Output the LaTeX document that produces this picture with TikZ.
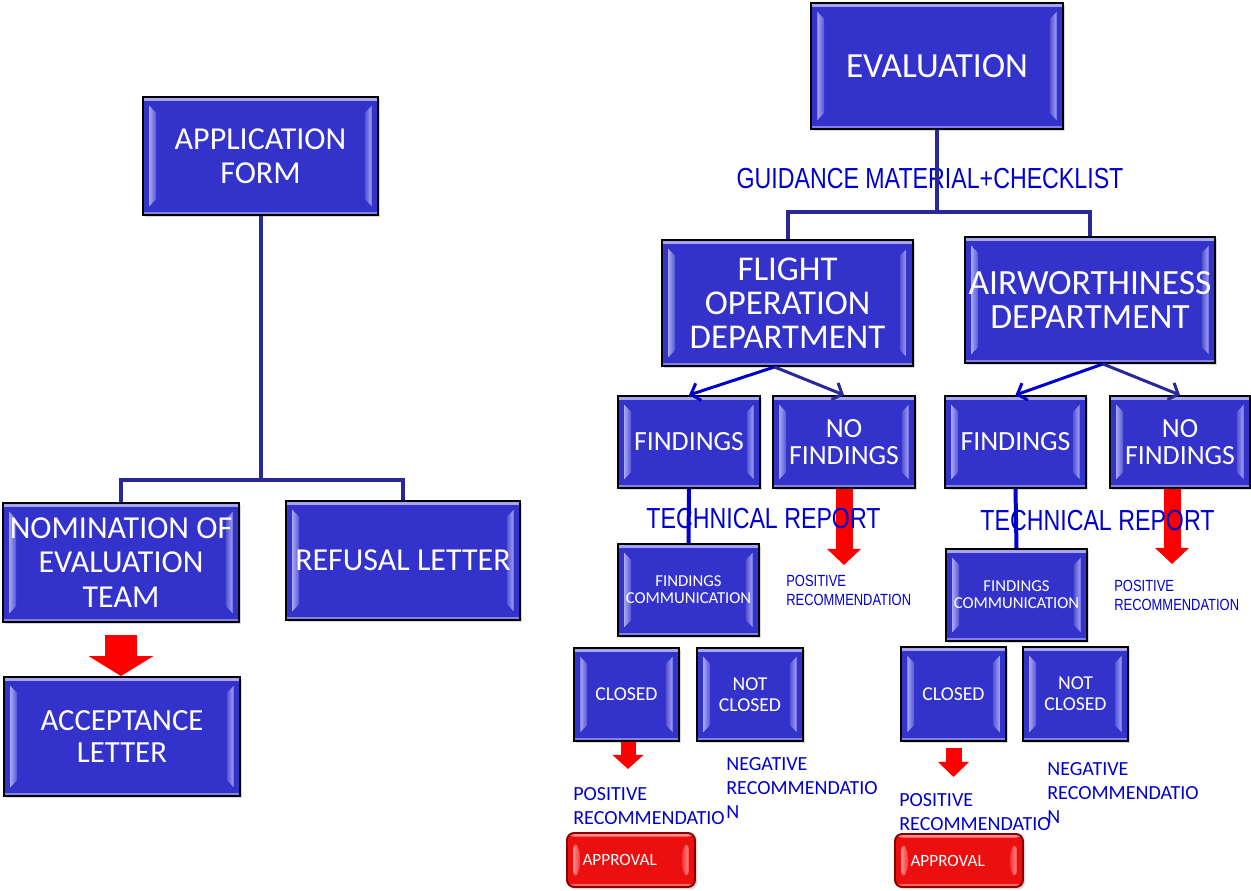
\documentclass[tikz,border=0pt]{standalone}
\usepackage{fontspec}
\setmainfont{Carlito}
\newfontfamily\narrowfont[FakeStretch=0.8]{Liberation Sans}
\usetikzlibrary{calc,arrows.meta,shadows}

\definecolor{boxblue}{RGB}{51,51,204}
\definecolor{bevelblue}{RGB}{165,165,242}
\definecolor{treeblue}{RGB}{40,40,155}
\definecolor{textblue}{RGB}{0,0,204}
\definecolor{okred}{RGB}{235,15,15}
\definecolor{bevelred}{RGB}{255,140,140}

% light rim and side bevels, painted inside a node's path picture
\newcommand\bevelrim[2]{%
  \path (path picture bounding box.north west) coordinate (nw)
        (path picture bounding box.south east) coordinate (se);
  \fill[#1] ($(nw)+(0pt,-0.6pt)$) rectangle ($(nw-|se)+(0pt,-2pt)$);
  \fill[#1, opacity=0.7] ($(nw|-se)+(0pt,0.6pt)$) rectangle ($(se)+(0pt,1.8pt)$);
  \shade[left color=#1, right color=#2] ($(nw)+(3.6pt,-5pt)$) -- ($(nw)+(7.4pt,-9pt)$)
            -- ($(nw|-se)+(7.4pt,9pt)$) -- ($(nw|-se)+(3.6pt,5pt)$) -- cycle;
  \shade[left color=#2, right color=#1] ($(nw-|se)+(-3.6pt,-5pt)$) -- ($(nw-|se)+(-7.4pt,-9pt)$)
            -- ($(se)+(-7.4pt,9pt)$) -- ($(se)+(-3.6pt,5pt)$) -- cycle;
}

\begin{document}
\begin{tikzpicture}[x=0.02cm, y=-0.02cm,
    box/.style={draw=black, line width=1.1pt, fill=boxblue, text=white,
                align=center, inner sep=0pt,
                drop shadow={shadow xshift=1.3pt, shadow yshift=-1.3pt, opacity=0.3},
                path picture={\bevelrim{bevelblue}{boxblue!70!bevelblue}}},
    okbox/.style={box, fill=okred, draw=red!55!black, rounded corners=4pt,
                path picture={\bevelrim{bevelred}{okred!70!bevelred}}},
    wh/.style 2 args={minimum width=#1cm, minimum height=#2cm},
    note/.style={inner sep=0pt, text=textblue, align=left, anchor=north west},
    tree/.style={draw=treeblue, line width=0.08cm},
    fork/.style={line width=0.06cm, -{Straight Barb[length=0.16cm, width=0.36cm]}},
    redarrow/.style n args={3}{draw=red, line width=#1cm,
                -{Triangle[width=#2cm, length=#3cm, line width=0pt]}}]

  \useasboundingbox (0,0) rectangle (1251,891);

  % application side
  \node[box, wh={4.70}{2.36}, font=\fontsize{18.2}{19.5}\selectfont] (appform) at (260.5,156) {APPLICATION\\FORM};
  \node[box, wh={4.72}{2.38}, font=\fontsize{18.2}{19.8}\selectfont] (nomination) at (121,562.5) {NOMINATION OF\\EVALUATION\\TEAM};
  \node[box, wh={4.68}{2.38}, font=\fontsize{18.2}{19.8}\selectfont] (refusal) at (403,560.5) {REFUSAL LETTER};
  \node[box, wh={4.72}{2.38}, font=\fontsize{17.5}{18.2}\selectfont] (acceptance) at (122,736.5) {ACCEPTANCE\\LETTER};

  % evaluation side
  \node[box, wh={5.04}{2.52}, font=\fontsize{20.1}{20}\selectfont] (evaluation) at (937,66) {EVALUATION};
  \node[box, wh={5.02}{2.52}, font=\fontsize{19.8}{19.3}\selectfont] (flightops) at (787.5,303) {FLIGHT\\OPERATION\\DEPARTMENT};
  \node[box, wh={5.00}{2.52}, font=\fontsize{20.2}{19.3}\selectfont] (airworth) at (1090,300) {AIRWORTHINESS\\DEPARTMENT};

  \node[box, wh={2.84}{1.84}, font=\fontsize{15.8}{15.3}\selectfont] (findA) at (689,442) {FINDINGS};
  \node[box, wh={2.84}{1.84}, font=\fontsize{15.8}{15.3}\selectfont] (nofindA) at (844,442) {NO\\FINDINGS};
  \node[box, wh={2.82}{1.84}, font=\fontsize{15.8}{15.3}\selectfont] (findB) at (1015.5,442) {FINDINGS};
  \node[box, wh={2.80}{1.84}, font=\fontsize{15.8}{15.3}\selectfont] (nofindB) at (1180,442) {NO\\FINDINGS};

  \node[box, wh={2.82}{1.84}, font=\fontsize{9.5}{9.6}\selectfont] (commA) at (688.5,590) {FINDINGS\\COMMUNICATION};
  \node[box, wh={2.82}{1.84}, font=\fontsize{9.5}{9.6}\selectfont] (commB) at (1016.5,595) {FINDINGS\\COMMUNICATION};

  \node[box, wh={2.10}{1.86}, font=\fontsize{11.2}{12}\selectfont] (closedA) at (626.5,694.5) {CLOSED};
  \node[box, wh={2.12}{1.86}, font=\fontsize{11.2}{12}\selectfont] (notclosedA) at (750,694.5) {NOT\\CLOSED};
  \node[box, wh={2.10}{1.88}, font=\fontsize{11.2}{12}\selectfont] (closedB) at (953.5,694) {CLOSED};
  \node[box, wh={2.10}{1.88}, font=\fontsize{11.2}{12}\selectfont] (notclosedB) at (1075.5,694) {NOT\\CLOSED};

  \node[okbox, wh={2.56}{1.08}, text width=1.94cm, align=left, font=\fontsize{9.8}{11}\selectfont] (approvalA) at (631,860) {APPROVAL};
  \node[okbox, wh={2.56}{1.06}, text width=1.94cm, align=left, font=\fontsize{9.8}{11}\selectfont] (approvalB) at (959,860.5) {APPROVAL};

  % red block arrows
  \draw[redarrow={0.66}{1.30}{0.40}] ([yshift=-0.24cm]nomination.south) -- (nomination.south |- acceptance.north);
  \draw[redarrow={0.34}{0.68}{0.32}] (nofindA.south) -- ++(0,76);
  \draw[redarrow={0.34}{0.68}{0.32}] ([xshift=-0.16cm]nofindB.south) -- ++(0,75);
  \draw[redarrow={0.30}{0.62}{0.28}] ([xshift=0.03cm]closedA.south) -- ++(0,27);
  \draw[redarrow={0.32}{0.62}{0.30}] ([yshift=-0.12cm]closedB.south) -- ++(0,29);

  % labels
  \node[note, anchor=center, font=\narrowfont\fontsize{16.5}{18}\selectfont] (guidance) at (930,178.5) {GUIDANCE MATERIAL+CHECKLIST};
  \node[note, anchor=center, font=\narrowfont\fontsize{16.5}{18}\selectfont] (reportA) at (763.5,519) {TECHNICAL REPORT};
  \node[note, anchor=center, font=\narrowfont\fontsize{16.5}{18}\selectfont] (reportB) at (1097.5,520.5) {TECHNICAL REPORT};
  \node[note, font=\narrowfont\fontsize{9.2}{10.8}\selectfont] (posA) at (786,575) {POSITIVE\\RECOMMENDATION};
  \node[note, font=\narrowfont\fontsize{9.2}{10.8}\selectfont] (posB) at (1114,580) {POSITIVE\\RECOMMENDATION};
  \node[note, font=\fontsize{11.4}{13.6}\selectfont] (okA) at (573,787) {POSITIVE\\RECOMMENDATIO};
  \node[note, font=\fontsize{11.4}{13.6}\selectfont] (negA) at (726,757) {NEGATIVE\\RECOMMENDATIO\\N};
  \node[note, font=\fontsize{11.4}{13.6}\selectfont] (okB) at (899,793) {POSITIVE\\RECOMMENDATIO};
  \node[note, font=\fontsize{11.4}{13.6}\selectfont] (negB) at (1047,762) {NEGATIVE\\RECOMMENDATIO\\N};

  % trees
  \coordinate (appfork) at (260.5,480);
  \draw[tree] (appform.south) -- (appfork);
  \draw[tree] (nomination.north) |- (appfork) -| (refusal.north);
  \coordinate (evalfork) at (937,212);
  \draw[tree] (evaluation.south) -- (evalfork);
  \draw[tree] (flightops.north) |- (evalfork) -| (airworth.north);

  \foreach \src/\dx/\dst/\tone in {flightops/-0.26/findA/textblue, flightops/-0.26/nofindA/treeblue,
                                   airworth/0.26/findB/textblue, airworth/0.26/nofindB/treeblue}
    \draw[fork, \tone] ([xshift=\dx cm]\src.south) -- (\dst.north);

  \foreach \src/\dst in {findA/commA, findB/commB}
    \draw[textblue, line width=0.08cm] (\src.south) -- (\dst.north);
\end{tikzpicture}
\end{document}
